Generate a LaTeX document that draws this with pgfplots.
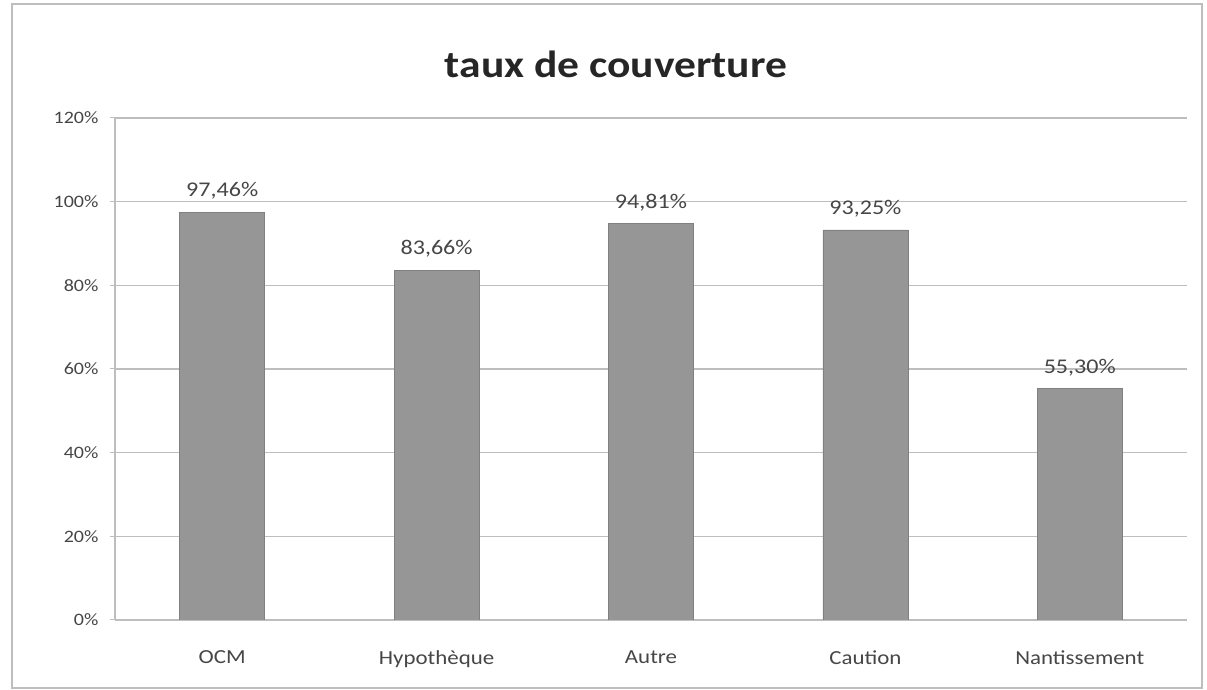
\documentclass[border=0pt]{standalone}
\usepackage{pgfplots}
\pgfplotsset{compat=1.18}
\usepackage{fontspec}
\setmainfont[FakeStretch=1.15]{Carlito}
\definecolor{bargray}{RGB}{150,150,150}
\definecolor{txtgray}{RGB}{70,70,70}
\definecolor{gridgray}{RGB}{190,190,190}
\begin{document}
\begin{tikzpicture}[x=1bp,y=1bp]
\useasboundingbox (0,0) rectangle (1207,690);
\draw[gridgray, line width=1.2bp] (12,2) rectangle (1202,686);
\node[font=\fontsize{38}{42}\selectfont\bfseries, text=black!85] at (616,626) {taux de couverture};
\begin{axis}[
  at={(115bp,70bp)}, anchor=south west,
  scale only axis, width=1072bp, height=502bp,
  xmin=-0.5, xmax=4.5, ymin=0, ymax=120,
  xtick={0,1,2,3,4},
  xticklabels={OCM,Hypothèque,Autre,Caution,Nantissement},
  extra x ticks={-0.5,0.5,1.5,2.5,3.5,4.5},
  extra x tick labels={},
  extra x tick style={major tick length=5bp, tick style={gridgray}},
  ytick={0,20,40,60,80,100,120},
  yticklabels={0\%,20\%,40\%,60\%,80\%,100\%,120\%},
  axis x line*=bottom, axis y line*=left,
  axis line style={gridgray, line width=1.2bp},
  x tick style={draw=none},
  y tick style={gridgray, line width=1bp},
  major tick length=5bp,
  tick align=outside,
  ymajorgrids, grid style={gridgray, line width=1.2bp},
  ticklabel style={font=\fontsize{17.5}{19}\selectfont, text=txtgray},
  xticklabel style={font=\fontsize{20}{22}\selectfont, yshift=-22bp},
  yticklabel style={xshift=-8bp},
  /pgf/number format/assume math mode=true,
  ybar, bar width=85bp,
  nodes near coords={\pgfmathprintnumber[fixed,fixed zerofill,precision=2,use comma]{\pgfplotspointmeta}\%},
  every node near coord/.append style={font=\fontsize{21}{23}\selectfont, text=txtgray, yshift=9bp},
]
\addplot[fill=bargray, draw=bargray!85!black, line width=0.6bp] coordinates {(0,97.46) (1,83.66) (2,94.81) (3,93.25) (4,55.30)};
\end{axis}
\end{tikzpicture}
\end{document}
